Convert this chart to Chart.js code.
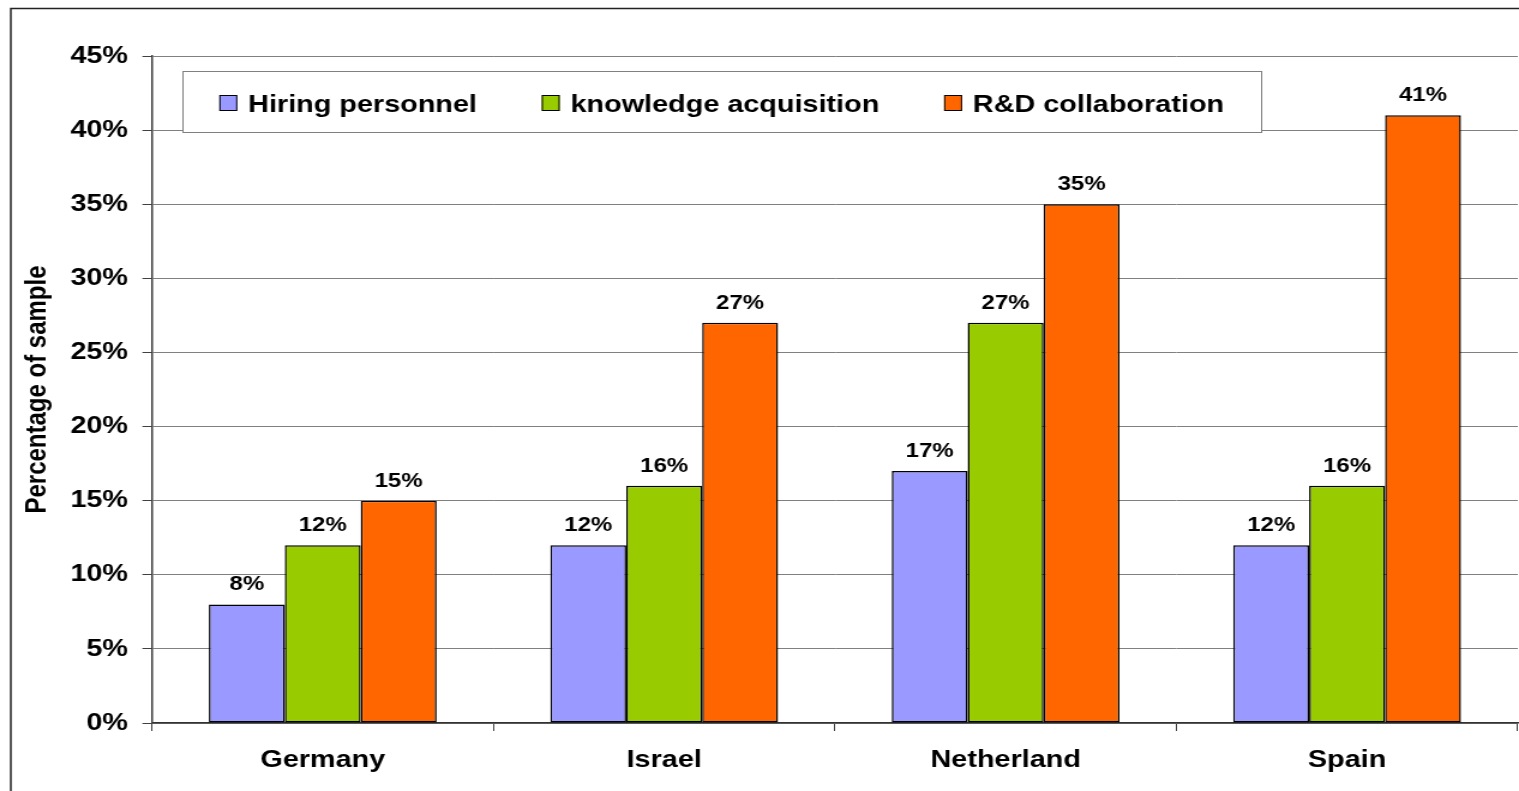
<!DOCTYPE html>
<html>
<head>
<meta charset="utf-8">
<script src="https://cdn.jsdelivr.net/npm/chart.js@4.4.1/dist/chart.umd.min.js"></script>
<style>
  html, body { margin: 0; padding: 0; background: #fff; overflow: hidden; }
  /* the original picture is stretched sideways, so the canvas is drawn narrower and widened by css */
  #chart { position: absolute; left: 0; top: 0; width: 1519px; height: 791px; }
</style>
</head>
<body>
<canvas id="chart" width="1266" height="791" style="width:1519px;height:791px"></canvas>
<script>
const countries = ['Germany', 'Israel', 'Netherland', 'Spain'];
const seriesNames = ['Hiring personnel', 'knowledge acquisition', 'R&D collaboration'];
const hiring = [8, 12, 17, 12];
const knowledge = [12, 16, 27, 16];
const rdCollab = [15, 27, 35, 41];
const yMax = 45;
const yStep = 5;
const yTitle = 'Percentage of sample';

const FONT = "'Liberation Sans', Arial, Helvetica, sans-serif";
const colors = ['#9999FF', '#99CC00', '#FF6600'];

const frame = {
  id: 'frame',
  beforeDraw(chart) {
    const { ctx } = chart;
    ctx.save();
    ctx.fillStyle = '#fff';
    ctx.fillRect(0, 0, chart.width, chart.height);
    ctx.strokeStyle = '#222';
    ctx.lineWidth = 1.5;
    ctx.strokeRect(9, 8.5, chart.width + 20, chart.height + 20);
    ctx.restore();
  }
};

const valueLabels = {
  id: 'valueLabels',
  afterDatasetsDraw(chart) {
    const { ctx } = chart;
    ctx.save();
    ctx.font = 'bold 20px ' + FONT;
    ctx.fillStyle = '#000';
    ctx.textAlign = 'center';
    ctx.textBaseline = 'alphabetic';
    chart.data.datasets.forEach((ds, i) => {
      chart.getDatasetMeta(i).data.forEach((bar, j) => {
        ctx.fillText(ds.data[j] + '%', bar.x, bar.y - 14);
      });
    });
    ctx.restore();
  }
};

const boxLegend = {
  id: 'boxLegend',
  afterDraw(chart) {
    const { ctx } = chart;
    const left = 152.5, top = 71, right = 1051.5, bottom = 132;
    ctx.save();
    ctx.fillStyle = '#fff';
    ctx.fillRect(left, top, right - left, bottom - top);
    ctx.strokeStyle = '#808080';
    ctx.lineWidth = 1;
    ctx.strokeRect(left, top + 0.5, right - left, bottom - top);
    ctx.font = 'bold 24px ' + FONT;
    ctx.textBaseline = 'alphabetic';
    ctx.textAlign = 'left';
    let x = 182.8;
    chart.data.datasets.forEach(ds => {
      ctx.fillStyle = ds.backgroundColor;
      ctx.fillRect(x, 95, 15, 16);
      ctx.strokeStyle = '#000';
      ctx.lineWidth = 1;
      ctx.strokeRect(x + 0.5, 95.5, 14, 15);
      ctx.fillStyle = '#000';
      ctx.fillText(ds.label, x + 24, 112);
      x += 24 + ctx.measureText(ds.label).width + 54;
    });
    ctx.restore();
  }
};

new Chart(document.getElementById('chart'), {
  type: 'bar',
  data: {
    labels: countries,
    datasets: [hiring, knowledge, rdCollab].map((vals, i) => ({
      label: seriesNames[i],
      data: vals,
      backgroundColor: colors[i],
      borderColor: '#000',
      borderWidth: 1.5,
      borderSkipped: false,
      categoryPercentage: 0.667,
      barPercentage: 1
    }))
  },
  options: {
    responsive: false,
    animation: false,
    devicePixelRatio: 1,
    layout: { padding: { top: 56, right: 1, bottom: 0, left: 0 } },
    plugins: { legend: { display: false }, tooltip: { enabled: false } },
    scales: {
      x: {
        afterFit(s) { s.height = 68; },
        grid: { drawOnChartArea: false, drawTicks: true, tickLength: 8, color: '#404040', lineWidth: 1, offset: true },
        border: { color: '#333', width: 1.5 },
        ticks: { color: '#000', padding: 15, font: { family: FONT, size: 24, weight: 'bold' } }
      },
      y: {
        min: 0,
        max: yMax,
        afterFit(s) { s.width = 126.7; },
        grid: { color: '#808080', lineWidth: 1, tickLength: 8, tickColor: '#404040' },
        border: { color: '#404040', width: 1.5 },
        ticks: {
          stepSize: yStep,
          color: '#000',
          padding: 12,
          font: { family: FONT, size: 24, weight: 'bold' },
          callback: v => v + '%'
        },
        title: {
          display: true,
          text: yTitle,
          color: '#000',
          padding: { top: 17, bottom: 0 },
          font: { family: FONT, size: 24, weight: 'bold' }
        }
      }
    }
  },
  plugins: [frame, valueLabels, boxLegend]
});
</script>
</body>
</html>
